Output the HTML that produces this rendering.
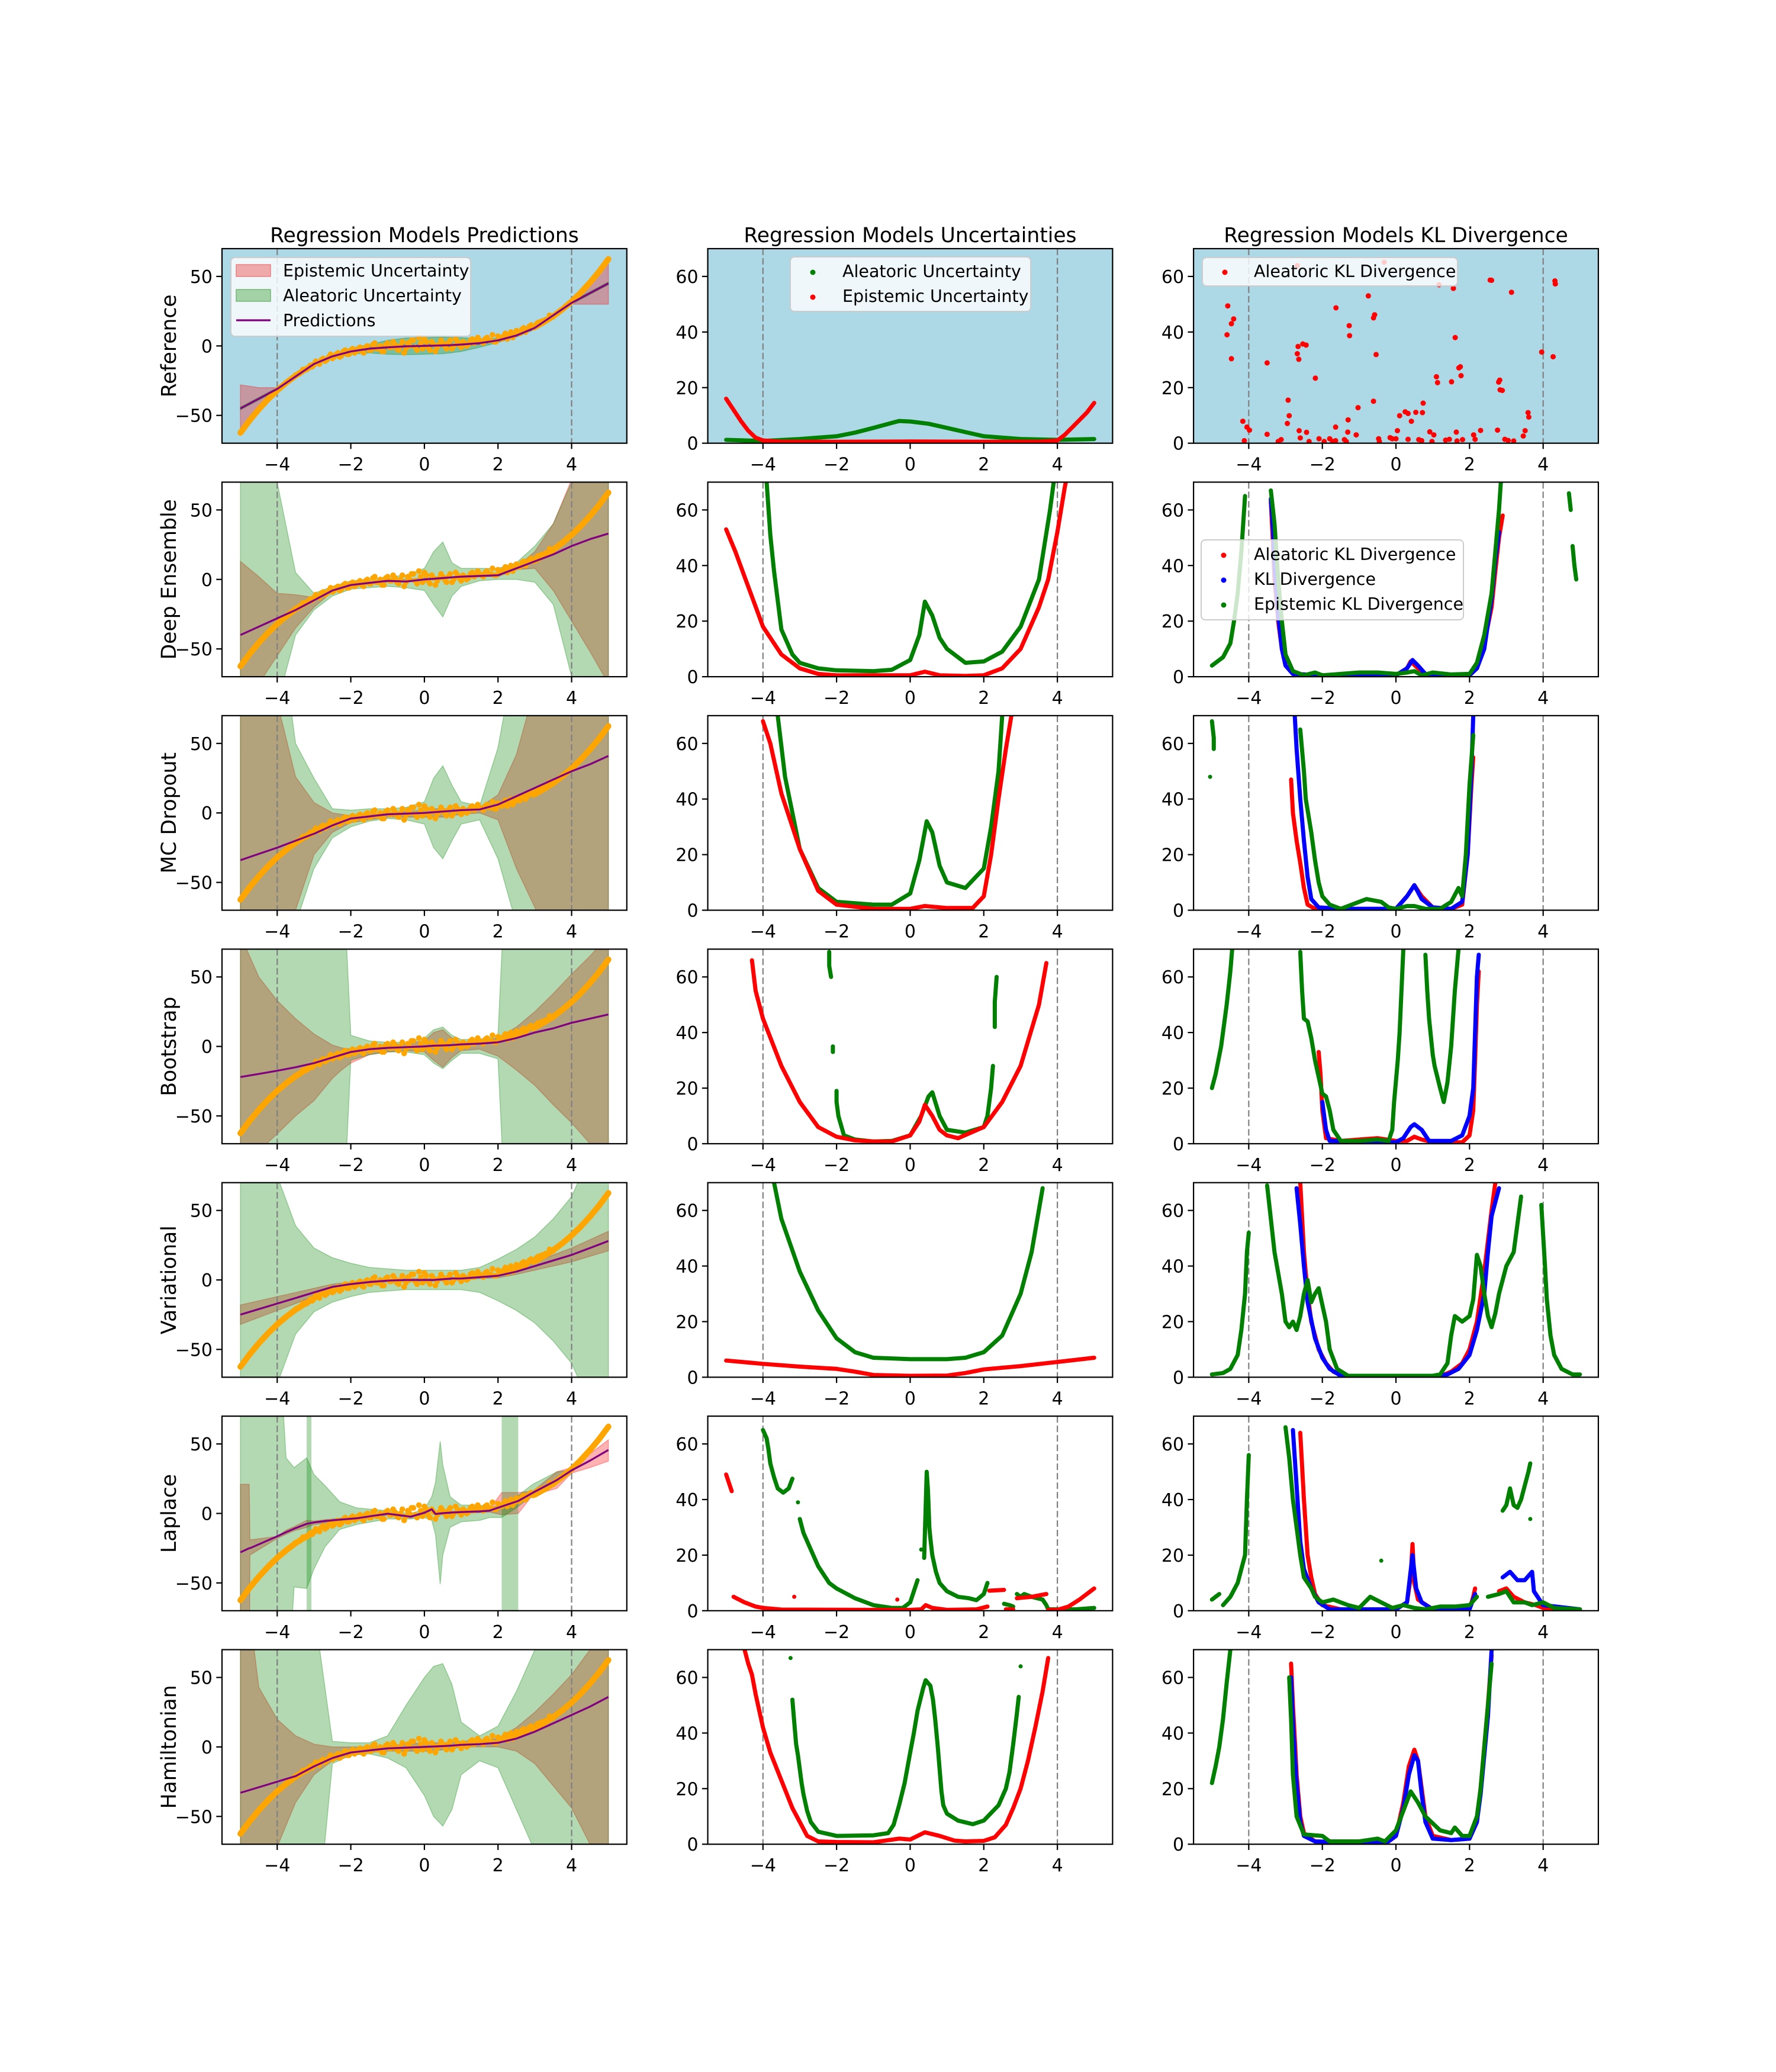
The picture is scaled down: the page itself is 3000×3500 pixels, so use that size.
<!DOCTYPE html>
<html><head><meta charset="utf-8"><title>Regression Models</title>
<style>
body{margin:0;background:#fff}
svg{display:block}
text{font-family:"DejaVu Sans","Liberation Sans",sans-serif;fill:#000}
</style></head>
<body>
<svg id="fig" xmlns="http://www.w3.org/2000/svg" width="3000" height="3500" viewBox="0 0 3000 3500">
<rect x="0" y="0" width="3000" height="3500" fill="#ffffff"/>
</svg>
<script>
// ---------------- shared data ----------------
const X = [-5,-4.5,-4,-3.5,-3,-2.5,-2,-1.5,-1,-0.5,0,0.25,0.5,0.75,1,1.5,2,2.5,3,3.5,4,4.5,5];
const TRUE_X = [-5,-4.75,-4.5,-4.25,-4,-3.75,-3.5,-3.25,-3,-2.75,-2.5,-2.25,-2,-1.75,-1.5,-1.25,-1,-0.75,-0.5,-0.25,0,0.25,0.5,0.75,1,1.25,1.5,1.75,2,2.25,2.5,2.75,3,3.25,3.5,3.75,4,4.25,4.5,4.75,5];
const TRUE_Y = [-62.5,-53.6,-45.6,-38.4,-32,-26.4,-21.4,-17.2,-13.5,-10.4,-7.8,-5.7,-4,-2.7,-1.7,-1,-0.5,-0.2,-0.06,0,0,0,0.06,0.2,0.5,1,1.7,2.7,4,5.7,7.8,10.4,13.5,17.2,21.4,26.4,32,38.4,45.6,53.6,62.5];
const OBS1_Y = [-21,-20,-17,-17,-14,-13,-12,-10,-11,-8,-9,-6,-8,-4,-6,-3,-5,-2,-4,-1,-3,1,-2,0,-4,2,-1,1,-3,3,-2,0,4,-3,2,5,-1,3,-4,1,2,-2,4,0,3,-1,2,1,5,3,4,2,6,4,3,7,5,9,8,6,11,9,13,12,15,14,17,18,19,22,21];
const OBS2_Y = [-15,-11,-13,-9,-10,-6,-8,-5,-7,-3,-6,-2,-4,-1,-5,0,-3,2,-2,-4,1,-1,3,-2,0,-5,2,4,-1,6,-2,3,-3,1,-1,4,0,2,-2,5,1,3,0,4,2,6,3,5,4,8,3,6,7,5,10,8,9,12,10,14,13,16];

// ---------------- Column 1: predictions ----------------
const REF_PRED = [-45,-38,-31,-22,-13,-7.5,-4,-2,-1,-0.3,0,0.2,0.4,0.6,1,2,4,7.5,13,22,31,38,45];
const REF_EPI_UP = [-28,-30,-30,-21,-12,-6.5,-3,-1,0,0.7,1,1.2,1.4,1.6,2,3,5,8.5,14,23,32,46,60];
const REF_EPI_LO = [-62,-46,-32,-23,-14,-8.5,-5,-3,-2,-1.3,-1,-0.8,-0.6,-0.4,0,1,3,6.5,12,21,30,30,30];
const REF_ALE_UP = [-44,-37,-30,-21,-12,-6,-2,1,4,5.7,6,6.2,6.4,6.1,6,5,5.5,8.5,14,23,32,39,46];
const REF_ALE_LO = [-46,-39,-32,-23,-14,-9,-6,-5,-6,-6.3,-6,-5.8,-5.6,-4.9,-4,-1,2.5,6.5,12,21,30,37,44];

const DE_PRED = [-40,-34,-28,-22,-15,-8,-4,-2.5,-1,-1.5,0,0.5,1,1.5,2,2.5,3,8,13,18,24,29,33];
const DE_EPI_UP = [13,2,-10,-11,-13,-7,-3,-2,0,0,1,1.5,2,2,3,3,4,9,20,40,72,100,130];
const DE_EPI_LO = [-100,-75,-55,-35,-20,-9,-5,-3,-2,-2,-1,0,0,1,1,2,2,7,8,-8,-30,-52,-75];
const DE_ALE_UP = [150,120,70,5,-10,-5,-1,0,2,3,8,20,27,12,8,8,8,12,24,40,70,100,140];
const DE_ALE_LO = [-200,-150,-90,-40,-22,-12,-7,-6,-5,-6,-8,-18,-27,-12,-5,-1,0,0,-2,-18,-70,-120,-170];

const MC_PRED = [-34,-29.5,-25,-20,-15,-9,-4,-2.5,-1,-0.5,0,0.5,1,1.5,2,2.5,6,12,18,24,30,35,41];
const MC_EPI_UP = [150,150,80,26,7.5,0,-2,-1,0,1,2,3,3,3,3,4,13,42,90,150,150,150,150];
const MC_EPI_LO = [-150,-120,-90,-70,-30,-14,-7,-5,-3,-3,-3,-3,-3,-2,-1,0,-5,-40,-68,-100,-150,-150,-150];
const MC_ALE_UP = [150,150,150,50,25,3,2,3,3,4,8,25,34,20,8,5,47,120,150,150,150,150,150];
const MC_ALE_LO = [-150,-150,-150,-80,-40,-18,-10,-6,-4,-5,-8,-25,-33,-20,-8,-5,-33,-80,-150,-150,-150,-150,-150];

const BS_X = [-5,-4.5,-4,-3.5,-3,-2.5,-2.25,-2,-1.5,-1,-0.5,0,0.25,0.5,0.75,1,1.5,2,2.25,2.5,3,3.5,4,4.5,5];
const BS_PRED = [-22,-19.8,-17.5,-15,-12,-8,-6,-4,-2,-1,-0.5,0,0.5,0.7,1,1.5,2,3,4.5,6,10,13,17,20,23];
const BS_EPI_UP = [80,50,33,20,9,1,-1,-2,-1,1,2,4,10,12,6,3,4,6,10,14,25,38,52,65,80];
const BS_EPI_LO = [-80,-75,-63,-50,-39,-23,-17,-12,-6,-4,-3,-4,-10,-15,-8,-3,-2,-7,-12,-17,-28,-42,-55,-70,-85];
const BS_ALE_UP = [150,150,150,150,150,150,150,8,4,3,3,6,12,14,8,5,5,8,150,150,150,150,150,150,150];
const BS_ALE_LO = [-150,-150,-150,-150,-150,-150,-150,-10,-6,-4,-4,-6,-12,-16,-10,-5,-5,-9,-150,-150,-150,-150,-150,-150,-150];

const VI_PRED = [-25,-21,-17,-13,-9,-5,-3,-1.5,-0.5,0,0,0,0.5,1,1,2,3,6,10,14,18,23,28];
const VI_EPI_UP = [-18,-15,-12,-9,-6,-3,-1.5,-0.5,0.5,1,1,1,1.5,2,2,3,4.5,8,13,18,23,29,35];
const VI_EPI_LO = [-32,-27,-22,-17,-12,-7,-4.5,-2.5,-1.5,-1,-1,-1,-0.5,0,0,1,1.5,4,7,10,13,17,21];
const VI_ALE_UP = [150,150,75,39,23,16,12,9,8,7,7,7,7,7,7,9,15,22,31,44,60,90,150];
const VI_ALE_LO = [-150,-150,-75,-39,-23,-16,-12,-9,-8,-7,-7,-7,-7,-7,-7,-9,-15,-22,-31,-44,-60,-90,-150];

const LA_X = [-5,-4.76,-4.74,-4,-3.76,-3.54,-3.2,-3.0,-2.7,-2.3,-1.84,-1,-0.37,0,0.2,0.3,0.43,0.5,0.7,1,1.5,1.77,2.1,2.55,2.94,3.6,4,4.5,5];
const LA_PRED = [-28,-25,-25,-16.5,-13.5,-11,-7.5,-6.5,-5.5,-4.5,-3.5,-0.2,-2.3,0.5,3,-0.4,0,0.2,0.6,1,1.5,2,5,9,14.8,24,31,38,45.7];
const LA_EPI_UP = [21,21,-19,-16.5,-12,-9.5,-5,-5.5,-4.5,-3.5,-2.5,0.8,-1.3,1.5,4,0.6,1,1.2,1.6,2,2.5,3,15,15,16,30,33,43,53];
const LA_EPI_LO = [-150,-150,-30,-18,-15,-12.5,-10,-8,-7,-6,-5,-1.2,-3.3,-0.5,2,-1.4,-1,-0.8,-0.4,0,0.5,1,-1,0,13,18,29,33,37.6];
const LA_ALE_UP = [150,150,150,150,40,33,40,28,20,8.4,4,2,0,3,12,22,52,35,12,6,6,5,5,13,21,30,31,38,45.7];
const LA_ALE_LO = [-150,-150,-150,-150,-150,-53,-54,-40,-24,-11.5,-8,-4,-4,-3,-5,-15,-51,-30,-10,-6,-5,-3,-3,5,13,22,31,38,45.7];
const LA_STRIPES = [[-3.2,-3.07],[2.1,2.55]];

const HM_PRED = [-33,-29,-25,-21,-14,-8,-4,-2.5,-1,-0.5,0,0.3,0.6,1,1.5,2,3,6,11,17,23,29,36];
const HM_EPI_UP = [150,43,20,8,2,0,0,0,1,2,3,3,3,3,4,5,6,14,25,38,52,70,100];
const HM_EPI_LO = [-150,-110,-72,-40,-20,-10,-6,-4,-3,-3,-3,-3,-2,-1,0,0,0,-3,-12,-28,-44,-70,-100];
const HM_ALE_UP = [150,150,150,150,100,4,3,3,8,30,50,58,60,45,18,8,15,40,70,150,150,150,150];
const HM_ALE_LO = [-150,-150,-150,-150,-150,-12,-6,-5,-8,-15,-35,-50,-57,-45,-20,-10,-15,-45,-75,-150,-150,-150,-150];

// ---------------- Column 2: uncertainties [x, value] (null = gap) ----------------
const REF_U_ALE = [[-5,1.2],[-4,0.8],[-3,1.5],[-2,2.5],[-1.5,3.8],[-1,5.5],[-0.5,7.3],[-0.3,8],[0,7.8],[0.5,7],[1,5.5],[1.5,4],[2,2.5],[3,1.5],[4,1.2],[5,1.5]];
const REF_U_EPI = [[-5,16],[-4.8,12],[-4.6,8],[-4.4,4.5],[-4.2,2],[-4,1],[-3.5,0.5],[-2,0.5],[0,0.6],[2,0.5],[3.5,0.5],[4,1],[4.2,3],[4.5,7],[4.8,11],[5,14.5]];
const DE_U_ALE = [[-3.9,70],[-3.8,51],[-3.7,38],[-3.5,17],[-3.2,8],[-3,5],[-2.5,3],[-2,2.3],[-1,2],[-0.5,2.5],[0,6],[0.25,15],[0.4,27],[0.6,22],[0.8,14],[1,10],[1.5,5],[2,5.5],[2.5,9],[3,18],[3.5,35],[3.8,60],[3.9,70]];
const DE_U_EPI = [[-5,53],[-4.75,45],[-4.5,36],[-4.25,27],[-4,18],[-3.5,8],[-3,3],[-2.5,1],[-2,0.5],[0,0.5],[0.4,1.8],[0.8,0.5],[1.5,0.3],[2,0.5],[2.5,3],[3,10],[3.5,25],[3.75,35],[4,52],[4.2,68],[4.3,75]];
const MC_U_ALE = [[-3.6,70],[-3.4,48],[-3,22],[-2.5,8],[-2,3],[-1,2],[-0.5,2],[0,6],[0.25,18],[0.45,32],[0.6,28],[0.8,16],[1,10],[1.5,8],[2,15],[2.2,30],[2.4,50],[2.5,70]];
const MC_U_EPI = [[-4,68],[-3.8,60],[-3.5,42],[-3,22],[-2.5,7],[-2,2],[-1,0.5],[0,0.5],[0.4,1.5],[1,0.8],[1.7,0.8],[2,5],[2.2,20],[2.4,40],[2.6,58],[2.75,70]];
const BS_U_ALE = [[-2.2,69],[-2.2,64],[-2.15,60],null,[-2.1,35],[-2.1,33],null,[-2,19],[-2,15],[-1.95,10],[-1.8,3],[-1.5,1.5],[-1,0.8],[-0.5,1],[0,3],[0.3,10],[0.5,17],[0.6,18.5],[0.8,10],[1,5],[1.5,4],[2,6],[2.1,10],[2.2,20],[2.25,28],null,[2.3,42],[2.3,51],[2.35,60]];
const BS_U_EPI = [[-4.3,66],[-4.2,55],[-4,45],[-3.5,28],[-3,15],[-2.5,6],[-2,2.5],[-1.5,1.2],[-1,0.8],[-0.5,0.8],[0,3],[0.25,8],[0.4,14],[0.6,10],[0.8,5],[1,3],[1.3,2],[2,6],[2.5,15],[3,28],[3.5,50],[3.7,65]];
const VI_U_ALE = [[-3.7,70],[-3.5,57],[-3,38],[-2.5,24],[-2,14],[-1.5,9],[-1,7],[0,6.5],[1,6.5],[1.5,7],[2,9],[2.5,15],[3,30],[3.3,45],[3.6,68]];
const VI_U_EPI = [[-5,6],[-4,4.8],[-3,3.8],[-2,3],[-1.5,2],[-1,0.8],[0,0.5],[1,0.6],[1.5,1.5],[2,2.8],[3,4],[4,5.5],[5,7]];
const LA_U_ALE = [[-4,65],[-3.9,62],[-3.85,58],[-3.8,53],[-3.7,48],[-3.6,44],[-3.45,42.5],[-3.3,44],[-3.2,47.5],null,[-3.05,39],null,[-3,33],[-2.9,28],[-2.7,22],[-2.5,16],[-2.2,10],[-2,8],[-1.5,4.5],[-1,2],[-0.5,1],[-0.2,1],[0,3],[0.1,7],[0.2,11],null,[0.3,22],null,[0.38,19],[0.45,50],[0.48,44],[0.5,38],[0.52,30],[0.55,26],[0.6,20],[0.7,14],[0.8,10],[1,7],[1.3,5],[1.6,4.5],[1.8,3.8],[2,6],[2.1,10],null,[2.55,2.5],[2.7,2],[2.8,1.5],null,[2.9,6],[3,5],[3.1,6],[3.3,5],[3.6,4],[3.7,2],[3.75,0.5],[4.5,0.5],[5,1]];
const LA_U_EPI = [[-5,49],[-4.85,43],null,[-4.8,5],[-4.5,3],[-4.2,1.5],[-4,1],[-3.5,0.4],[-1,0.3],[0,0.3],[0.3,0.5],[0.42,2],[0.6,1],[1,0.3],[1.8,0.5],[2.1,1.5],null,[2.15,7.2],[2.55,7.5],null,[2.6,0.5],[2.8,0.5],null,[2.9,4.5],[3.3,5],[3.5,5.5],[3.7,6],null,[3.75,0.3],[4,0.3],[4.3,1.5],[4.6,4],[5,8],null,[-3.15,5],null,[-0.35,4]];
const HM_U_ALE = [[-3.25,67],null,[-3.2,52],[-3.15,44],[-3.1,36],[-3.05,32],[-3,27],[-2.95,22],[-2.9,18],[-2.8,12],[-2.7,8],[-2.5,4.5],[-2,3],[-1,3.2],[-0.6,4],[-0.45,7],[-0.3,14],[-0.15,22],[0,33],[0.1,40],[0.2,48],[0.35,56],[0.42,59],[0.55,57],[0.62,52],[0.68,45],[0.75,35],[0.8,27],[0.85,19],[0.9,14],[1,11],[1.3,8.5],[1.7,7.2],[2,8.5],[2.4,14],[2.6,20],[2.7,26],[2.8,36],[2.9,47],[2.95,53],null,[3.0,64]];
const HM_U_EPI = [[-4.5,70],[-4.4,65],[-4.3,61],[-4.2,54],[-4,42],[-3.8,33],[-3.5,23],[-3.2,13],[-3,8],[-2.8,3],[-2.5,1],[-2,0.8],[-1,0.7],[-0.3,2],[0,1.7],[0.4,4.3],[0.8,3],[1.2,1.3],[1.5,1],[2,1.2],[2.3,2.5],[2.6,7],[2.8,13],[3,20],[3.2,30],[3.4,42],[3.6,55],[3.75,67]];

// ---------------- Column 3: KL divergence [x, value] ----------------
const REF_KL_ALE = [[-4.65,61.6],[-4.57,49.4],[-4.41,44.7],[-4.47,43],[-4.59,39],[-4.47,30.4],[-4.16,7.9],[-4.05,5.8],[-3.98,4.7],[-4.12,0.9],[-3.5,28.9],[-3.5,3.2],[-3.12,1.3],[-3.2,0.6],[-2.93,15.5],[-2.9,9.9],[-2.95,7.1],[-2.68,63.9],[-2.66,34.8],[-2.68,32.2],[-2.64,30.2],[-2.53,35.7],[-2.44,35.3],[-2.63,4.5],[-2.6,1.9],[-2.43,3.9],[-2.36,0.6],[-2.19,23.4],[-2.09,1.6],[-1.95,0.6],[-1.8,1.6],[-1.72,0.6],[-1.64,0.9],[-1.64,5.8],[-1.63,48.7],[-1.4,1.3],[-1.35,0.6],[-1.31,4],[-1.3,8.4],[-1.27,42.3],[-1.26,38.7],[-1.08,3],[-1.03,12.8],[-0.75,53],[-0.61,45.1],[-0.58,46.2],[-0.61,15.1],[-0.54,31.9],[-0.47,1.6],[-0.45,0.6],[-0.32,65.1],[-0.16,2],[-0.1,1.6],[0,1.6],[0.04,4.5],[0.1,9.9],[0.25,11.3],[0.33,10.7],[0.33,1.4],[0.42,7.9],[0.54,11.1],[0.62,1.3],[0.7,0.9],[0.72,11],[0.74,14.4],[0.92,4.1],[0.98,0.6],[1.03,3],[1.1,23.9],[1.13,21.8],[1.17,57],[1.35,1.1],[1.45,1.4],[1.51,22.1],[1.56,55.7],[1.61,38],[1.64,4],[1.66,0.8],[1.71,27.1],[1.75,27.5],[1.77,24.3],[1.81,1.3],[2.11,3],[2.15,1.4],[2.3,4.6],[2.56,58.7],[2.6,58.6],[2.76,4.7],[2.79,22],[2.82,22.7],[2.83,19.2],[2.89,19],[2.96,1.4],[3.05,1],[3.2,0.8],[3.14,54.3],[3.46,2.6],[3.51,4.5],[3.59,11],[3.61,9.4],[3.96,32.8],[4.27,31.1],[4.32,58.4],[4.33,57.3]];
const DE_KL_ALE = [[-3.4,63],[-3.35,50],[-3.3,35],[-3.2,20],[-3.1,10],[-3,4],[-2.8,1],[-2,0.5],[0,0.5],[0.3,3],[0.4,5.5],[0.6,3],[0.8,1],[1.5,0.5],[2,0.5],[2.2,3],[2.4,12],[2.6,25],[2.7,38],[2.8,50],[2.9,58]];
const DE_KL_TOT = [[-3.4,64],[-3.35,55],[-3.3,40],[-3.2,22],[-3.1,10],[-3,4],[-2.8,1],[-2,0.5],[0,0.5],[0.3,3],[0.45,6],[0.6,4],[0.8,1],[1.5,0.5],[2,0.5],[2.2,3],[2.4,10],[2.6,28],[2.7,42],[2.8,52]];
const DE_KL_EPI = [[-5,4],[-4.7,7],[-4.5,12],[-4.4,20],[-4.3,30],[-4.2,45],[-4.1,65],null,[-3.4,67],[-3.3,55],[-3.2,35],[-3.1,20],[-3,8],[-2.8,2],[-2.5,0.5],[-2.2,1.5],[-2,0.5],[-1.5,1],[-1,1.5],[-0.5,1.5],[0,1],[0.3,1.5],[0.5,2],[0.7,0.5],[1,1.5],[1.5,0.8],[2,1],[2.2,5],[2.4,15],[2.6,30],[2.7,45],[2.8,60],[2.85,70],null,[4.7,66],[4.75,60],null,[4.8,47],[4.85,40],[4.9,35]];
const MC_KL_ALE = [[-2.85,47],[-2.8,35],[-2.7,25],[-2.6,17],[-2.5,8],[-2.4,2],[-2.2,0.5],[0,0.5],[0.3,5],[0.5,9],[0.7,5],[1,1],[1.5,0.5],[1.8,2],[1.95,20],[2.05,45],[2.1,55]];
const MC_KL_TOT = [[-2.75,70],[-2.7,58],[-2.6,40],[-2.5,25],[-2.4,12],[-2.3,4],[-2.1,1],[-1.5,0.5],[0,0.5],[0.3,5],[0.5,9],[0.7,4],[1,1],[1.5,0.5],[1.8,3],[1.95,20],[2.05,50],[2.1,70]];
const MC_KL_EPI = [[-5.05,48],null,[-4.95,58],[-4.95,62],[-5,68],null,[-2.6,65],[-2.5,50],[-2.45,40],[-2.3,28],[-2.2,18],[-2.1,10],[-2,5],[-1.8,2],[-1.5,0.5],[-1.2,2],[-0.8,4],[-0.4,3],[-0.2,1],[0,0.5],[0.3,1.5],[0.5,1.5],[0.8,0.5],[1.2,0.5],[1.5,3],[1.7,8],[1.8,5],[1.9,20],[2,45],[2.1,63]];
const BS_KL_ALE = [[-2.1,33],[-2.05,25],[-2,12],[-1.9,2],[-1.5,1],[-0.5,2],[0,1],[0.3,1],[0.5,2.5],[0.7,1.5],[1,0.5],[1.8,0.5],[2,3],[2.1,12],[2.15,30],[2.2,50],[2.25,62]];
const BS_KL_TOT = [[-2.0,15],[-1.9,5],[-1.8,1],[0,0.5],[0.2,2],[0.4,6],[0.5,7],[0.7,5],[0.9,1],[1.5,1],[1.8,3],[2,10],[2.1,20],[2.15,40],[2.2,60],[2.25,68]];
const BS_KL_EPI = [[-5,20],[-4.9,25],[-4.75,35],[-4.6,50],[-4.5,62],[-4.45,70],null,[-2.6,69],[-2.55,55],[-2.5,45],[-2.4,44],[-2.3,38],[-2.2,30],[-2.1,24],[-2,18],[-1.9,17],[-1.8,12],[-1.7,5],[-1.5,1],[-1,1],[-0.5,1.5],[-0.2,1],[-0.1,5],[-0.05,15],[0.05,30],[0.1,40],[0.2,70],null,[0.8,68],[0.85,55],[0.9,45],[1.0,32],[1.05,28],[1.2,20],[1.3,15],[1.4,22],[1.5,35],[1.6,55],[1.7,70]];
const VI_KL_ALE = [[-2.6,70],[-2.5,45],[-2.4,30],[-2.3,20],[-2.1,10],[-1.9,5],[-1.7,2],[-1.4,0.3],[1.2,0.3],[1.5,2],[1.8,5],[2,10],[2.2,20],[2.4,38],[2.6,60],[2.7,70]];
const VI_KL_TOT = [[-2.7,68],[-2.6,55],[-2.5,40],[-2.4,27],[-2.2,14],[-2,7],[-1.8,3],[-1.5,0.5],[1,0.3],[1.4,1],[1.7,3],[2,8],[2.2,17],[2.4,30],[2.5,45],[2.6,58],[2.8,68]];
const VI_KL_EPI = [[-5,1],[-4.7,1.5],[-4.5,3],[-4.3,8],[-4.2,17],[-4.1,30],[-4.05,45],[-4,52],null,[-3.5,69],[-3.4,57],[-3.3,45],[-3.1,30],[-3.0,20],[-2.9,18],[-2.8,20],[-2.7,17],[-2.6,22],[-2.5,30],[-2.4,35],[-2.3,27],[-2.2,30],[-2.1,32],[-1.9,20],[-1.8,10],[-1.6,3],[-1.3,0.5],[0,0.5],[1,0.5],[1.2,1],[1.4,5],[1.5,15],[1.6,22],[1.8,20],[2,22],[2.1,28],[2.2,44],[2.3,40],[2.4,30],[2.5,22],[2.6,18],[2.7,23],[2.8,30],[3,40],[3.2,45],[3.4,65],null,[3.95,62],[4.05,40],[4.1,28],[4.2,15],[4.3,8],[4.5,3],[4.8,1],[5,1]];
const LA_KL_ALE = [[-2.6,64],[-2.55,52],[-2.5,40],[-2.45,30],[-2.4,20],[-2.3,12],[-2.2,6],[-2,2],[-1.5,0.5],[0,0.5],[0.3,3],[0.4,12],[0.45,24],[0.5,10],[0.6,4],[1,0.5],[2,0.5],[2.1,5],[2.15,8],null,[2.8,7],[3.0,8],[3.2,5],[3.5,3],[3.8,2],[4,1],[5,0.5]];
const LA_KL_TOT = [[-2.8,65],[-2.75,55],[-2.7,45],[-2.65,35],[-2.6,25],[-2.5,15],[-2.3,8],[-2.1,3],[-1.8,0.5],[0,0.5],[0.3,3],[0.45,20],[0.55,8],[0.7,3],[1,0.5],[2,0.5],[2.15,6],null,[2.9,12],[3.1,14],[3.3,11],[3.5,11],[3.7,14],[3.75,7],[4,2],[5,0.5]];
const LA_KL_EPI = [[-5,4],[-4.8,6],null,[-4.7,2],[-4.5,5],[-4.3,10],[-4.1,20],[-4.05,40],[-4,56],null,[-3.0,66],[-2.9,55],[-2.8,40],[-2.7,30],[-2.6,20],[-2.5,12],[-2.3,8],[-2.2,5],[-2,3],[-1.7,4],[-1.3,2],[-1,1],[-0.7,5],[-0.4,3],[-0.1,1],[0.2,2],[0.5,1],[0.8,0.5],[1.2,1.5],[1.6,1.5],[2,2],[2.2,5],null,[2.5,5],[2.8,6],[3.0,7],[3.2,3],[3.5,3],[3.7,2],[4,3],[4.3,1],[5,0.5],null,[2.9,36],[3.0,38],[3.1,44],[3.2,38],[3.3,37],[3.4,40],[3.5,45],[3.6,50],[3.65,53],null,[3.65,33],null,[-0.4,18]];
const HM_KL_ALE = [[-2.85,65],[-2.8,50],[-2.75,38],[-2.7,25],[-2.6,10],[-2.5,4],[-2.2,1],[-1,0.5],[-0.2,1],[0,3],[0.2,15],[0.35,28],[0.5,34],[0.6,30],[0.7,20],[0.8,10],[1,3],[1.5,1.5],[2,2],[2.2,8],[2.3,20],[2.4,35],[2.5,50],[2.6,68]];
const HM_KL_TOT = [[-2.85,60],[-2.8,44],[-2.75,32],[-2.7,22],[-2.6,8],[-2.5,3],[-2.2,1],[-1,0.5],[-0.2,1],[0,3],[0.2,13],[0.35,25],[0.5,32],[0.6,30],[0.7,18],[0.8,8],[1,2],[1.5,1.5],[2,2],[2.2,8],[2.3,18],[2.4,32],[2.5,46],[2.6,70]];
const HM_KL_EPI = [[-5,22],[-4.9,28],[-4.8,35],[-4.7,45],[-4.6,58],[-4.5,70],null,[-2.9,60],[-2.85,45],[-2.8,25],[-2.7,10],[-2.5,3.5],[-2,3],[-1.8,1],[-1,1],[-0.5,2],[-0.3,1],[0,5],[0.2,12],[0.4,19],[0.6,15],[0.8,10],[1.2,5],[1.5,4],[1.6,6],[1.8,3],[2,3],[2.2,10],[2.3,20],[2.4,35],[2.5,50],[2.6,65]];

const ROW_LABELS = ["Reference","Deep Ensemble","MC Dropout","Bootstrap","Variational","Laplace","Hamiltonian"];
const COL_TITLES = ["Regression Models Predictions","Regression Models Uncertainties","Regression Models KL Divergence"];
const X_TICKS = [-4,-2,0,2,4];
const Y_TICKS_PRED = [-50,0,50];
const Y_TICKS_POS = [0,20,40,60];

const MODELS = [
  {key:'reference', xs:X, pred:REF_PRED, eu:REF_EPI_UP, el:REF_EPI_LO, au:REF_ALE_UP, al:REF_ALE_LO, uA:REF_U_ALE, uE:REF_U_EPI, klA:REF_KL_ALE},
  {key:'deep-ensemble', xs:X, pred:DE_PRED, eu:DE_EPI_UP, el:DE_EPI_LO, au:DE_ALE_UP, al:DE_ALE_LO, uA:DE_U_ALE, uE:DE_U_EPI, klA:DE_KL_ALE, klT:DE_KL_TOT, klE:DE_KL_EPI},
  {key:'mc-dropout', xs:X, pred:MC_PRED, eu:MC_EPI_UP, el:MC_EPI_LO, au:MC_ALE_UP, al:MC_ALE_LO, uA:MC_U_ALE, uE:MC_U_EPI, klA:MC_KL_ALE, klT:MC_KL_TOT, klE:MC_KL_EPI},
  {key:'bootstrap', xs:BS_X, pred:BS_PRED, eu:BS_EPI_UP, el:BS_EPI_LO, au:BS_ALE_UP, al:BS_ALE_LO, uA:BS_U_ALE, uE:BS_U_EPI, klA:BS_KL_ALE, klT:BS_KL_TOT, klE:BS_KL_EPI},
  {key:'variational', xs:X, pred:VI_PRED, eu:VI_EPI_UP, el:VI_EPI_LO, au:VI_ALE_UP, al:VI_ALE_LO, uA:VI_U_ALE, uE:VI_U_EPI, klA:VI_KL_ALE, klT:VI_KL_TOT, klE:VI_KL_EPI},
  {key:'laplace', xs:LA_X, pred:LA_PRED, eu:LA_EPI_UP, el:LA_EPI_LO, au:LA_ALE_UP, al:LA_ALE_LO, stripes:LA_STRIPES, uA:LA_U_ALE, uE:LA_U_EPI, klA:LA_KL_ALE, klT:LA_KL_TOT, klE:LA_KL_EPI},
  {key:'hamiltonian', xs:X, pred:HM_PRED, eu:HM_EPI_UP, el:HM_EPI_LO, au:HM_ALE_UP, al:HM_ALE_LO, uA:HM_U_ALE, uE:HM_U_EPI, klA:HM_KL_ALE, klT:HM_KL_TOT, klE:HM_KL_EPI}
];

// ---------------- drawing ----------------
const NS = "http://www.w3.org/2000/svg";
const fig = document.getElementById('fig');
const AX_L = 375, COL_STEP = 820.56, AX_W = 683.8, AX_T = 420, ROW_STEP = 394.43, AX_H = 328.66;
const XMIN = -5.5, XMAX = 5.5;
const TICK_FS = 30, TITLE_FS = 34.5, LEG_FS = 28.5, DOT_W = 7;

function mk(tag, attrs, parent, name, inter) {
  const e = document.createElementNS(NS, tag);
  for (const k in attrs) e.setAttribute(k, attrs[k]);
  
  
  parent.appendChild(e);
  return e;
}
function sx(P, x) { return P.L + (x - XMIN) / (XMAX - XMIN) * AX_W; }
function sy(P, y) { return P.T + AX_H * (P.ymax - y) / (P.ymax - P.ymin); }
function cl(v) { return Math.max(-400, Math.min(400, v)); }

function bandPath(P, xs, up, lo) {
  let d = '';
  for (let i = 0; i < xs.length; i++) d += (i ? 'L' : 'M') + sx(P, xs[i]).toFixed(1) + ',' + sy(P, cl(up[i])).toFixed(1);
  for (let i = xs.length - 1; i >= 0; i--) d += 'L' + sx(P, xs[i]).toFixed(1) + ',' + sy(P, cl(lo[i])).toFixed(1);
  return d + 'Z';
}
function linePts(P, xs, ys) {
  return xs.map((x, i) => sx(P, x).toFixed(1) + ',' + sy(P, cl(ys[i])).toFixed(1)).join(' ');
}
function drawSeries(P, g, pts, color, name, w) {
  const segs = [[]];
  pts.forEach(p => { if (p === null) segs.push([]); else segs[segs.length - 1].push(p); });
  segs.forEach(seg => {
    if (seg.length === 0) return;
    if (seg.length === 1) {
      mk('circle', {cx: sx(P, seg[0][0]).toFixed(1), cy: sy(P, cl(seg[0][1])).toFixed(1), r: w / 2, fill: color}, g, name + '-point', false);
    } else {
      const s = seg.map(p => sx(P, p[0]).toFixed(1) + ',' + sy(P, cl(p[1])).toFixed(1)).join(' ');
      mk('polyline', {points: s, fill: 'none', stroke: color, 'stroke-width': w, 'stroke-linecap': 'round', 'stroke-linejoin': 'round'}, g, name, false);
    }
  });
}

function makePanel(r, c) {
  const P = {L: AX_L + c * COL_STEP, T: AX_T + r * ROW_STEP, ymin: c === 0 ? -70 : 0, ymax: 70};
  const g = mk('g', {}, fig, 'panel-' + MODELS[r].key + '-' + ['predictions', 'uncertainties', 'kl-divergence'][c], false);
  mk('rect', {x: P.L, y: P.T, width: AX_W, height: AX_H, fill: r === 0 ? '#add8e6' : '#ffffff'}, g, 'plot-background', false);
  const cp = mk('clipPath', {id: 'clip-' + r + '-' + c}, g, 'plot-clip', false);
  mk('rect', {x: P.L, y: P.T, width: AX_W, height: AX_H}, cp, 'plot-clip-rect', false);
  const inner = mk('g', {'clip-path': 'url(#clip-' + r + '-' + c + ')'}, g, 'plot-area', false);
  P.g = g; P.inner = inner;
  return P;
}
function drawDashed(P) {
  [-4, 4].forEach(v => {
    mk('line', {x1: sx(P, v), x2: sx(P, v), y1: P.T, y2: P.T + AX_H, stroke: '#808080', 'stroke-width': 2.2, 'stroke-dasharray': '11,5'}, P.inner, 'boundary-line-x' + v, false);
  });
}
function drawAxes(P, yt) {
  const g = P.g;
  mk('rect', {x: P.L, y: P.T, width: AX_W, height: AX_H, fill: 'none', stroke: '#000', 'stroke-width': 2.2}, g, 'axes-frame', false);
  X_TICKS.forEach(v => {
    const x = sx(P, v), y = P.T + AX_H;
    mk('line', {x1: x, x2: x, y1: y, y2: y + 9.7, stroke: '#000', 'stroke-width': 2.2}, g, 'x-tick', false);
    const t = mk('text', {x: x, y: y + 46, 'text-anchor': 'middle', 'font-size': TICK_FS}, g, 'x-tick-label', false);
    t.textContent = v < 0 ? '\u2212' + Math.abs(v) : String(v);
  });
  yt.forEach(v => {
    const y = sy(P, v);
    mk('line', {x1: P.L - 9.7, x2: P.L, y1: y, y2: y, stroke: '#000', 'stroke-width': 2.2}, g, 'y-tick', false);
    const t = mk('text', {x: P.L - 16, y: y + 11, 'text-anchor': 'end', 'font-size': TICK_FS}, g, 'y-tick-label', false);
    t.textContent = v < 0 ? '\u2212' + Math.abs(v) : String(v);
  });
}

const EPI_FILL = 'rgba(255,0,0,0.3)';
const ALE_FILL = 'rgba(0,128,0,0.3)';

MODELS.forEach((m, r) => {
  // column 1
  const P = makePanel(r, 0);
  mk('path', {d: bandPath(P, m.xs, m.eu, m.el), fill: EPI_FILL, stroke: 'rgba(255,0,0,0.3)', 'stroke-width': 1.5}, P.inner, 'epistemic-band', false);
  mk('path', {d: bandPath(P, m.xs, m.au, m.al), fill: ALE_FILL, stroke: 'rgba(0,128,0,0.3)', 'stroke-width': 1.5}, P.inner, 'aleatoric-band', false);
  if (m.stripes) m.stripes.forEach(s => {
    mk('rect', {x: sx(P, s[0]), y: P.T, width: sx(P, s[1]) - sx(P, s[0]), height: AX_H, fill: ALE_FILL}, P.inner, 'aleatoric-stripe', false);
  });
  drawDashed(P);
  const lx = [], ly = [], rx = [], ry = [];
  TRUE_X.forEach((x, i) => { if (x <= -3) { lx.push(x); ly.push(TRUE_Y[i]); } if (x >= 3) { rx.push(x); ry.push(TRUE_Y[i]); } });
  mk('polyline', {points: linePts(P, lx, ly), fill: 'none', stroke: '#ffa500', 'stroke-width': 10, 'stroke-linecap': 'round', 'stroke-linejoin': 'round'}, P.inner, 'data-points-left', false);
  mk('polyline', {points: linePts(P, rx, ry), fill: 'none', stroke: '#ffa500', 'stroke-width': 10, 'stroke-linecap': 'round', 'stroke-linejoin': 'round'}, P.inner, 'data-points-right', false);
  OBS1_Y.forEach((v, i) => {
    mk('circle', {cx: sx(P, -3.5 + 0.1 * i).toFixed(1), cy: sy(P, v).toFixed(1), r: 4.8, fill: '#ffa500'}, P.inner, 'data-point', false);
  });
  OBS2_Y.forEach((v, i) => {
    mk('circle', {cx: sx(P, -3.05 + 0.1 * i).toFixed(1), cy: sy(P, v).toFixed(1), r: 4.8, fill: '#ffa500'}, P.inner, 'data-point', false);
  });
  mk('polyline', {points: linePts(P, m.xs, m.pred), fill: 'none', stroke: '#800080', 'stroke-width': 3.2, 'stroke-linejoin': 'round'}, P.inner, 'prediction-line', false);
  drawAxes(P, Y_TICKS_PRED);
  const yl = mk('text', {x: 0, y: 0, 'text-anchor': 'middle', 'font-size': TITLE_FS, transform: 'translate(297,' + (P.T + AX_H / 2) + ') rotate(-90)'}, P.g, 'row-label', false);
  yl.textContent = ROW_LABELS[r];

  // column 2
  const Q = makePanel(r, 1);
  drawDashed(Q);
  drawSeries(Q, Q.inner, m.uA, '#008000', 'aleatoric-uncertainty-series', DOT_W);
  drawSeries(Q, Q.inner, m.uE, '#ff0000', 'epistemic-uncertainty-series', DOT_W);
  drawAxes(Q, Y_TICKS_POS);

  // column 3
  const R = makePanel(r, 2);
  drawDashed(R);
  if (r === 0) {
    m.klA.forEach(p => {
      mk('circle', {cx: sx(R, p[0]).toFixed(1), cy: sy(R, p[1]).toFixed(1), r: 4.5, fill: '#ff0000'}, R.inner, 'aleatoric-kl-point', false);
    });
  } else {
    drawSeries(R, R.inner, m.klA, '#ff0000', 'aleatoric-kl-series', DOT_W);
    drawSeries(R, R.inner, m.klT, '#0000ff', 'kl-divergence-series', DOT_W);
    drawSeries(R, R.inner, m.klE, '#008000', 'epistemic-kl-series', DOT_W);
  }
  drawAxes(R, Y_TICKS_POS);

  if (r === 0) {
    [P, Q, R].forEach((pp, c) => {
      const t = mk('text', {x: pp.L + AX_W / 2, y: pp.T - 11, 'text-anchor': 'middle', 'font-size': TITLE_FS}, fig, 'column-title', false);
      t.textContent = COL_TITLES[c];
    });
  }
});

// ---------------- legends ----------------
function legendBox(x, y, w, h, name) {
  const g = mk('g', {}, fig, name, false);
  mk('rect', {x: x, y: y, width: w, height: h, rx: 7, fill: 'rgba(255,255,255,0.8)', stroke: '#cccccc', 'stroke-width': 2}, g, 'legend-frame', false);
  return g;
}
function legendText(g, x, y, s, name) {
  const t = mk('text', {x: x, y: y + 10, 'font-size': LEG_FS}, g, name, false);
  t.textContent = s;
}
{
  const g = legendBox(390, 435, 405, 133, 'predictions-legend');
  mk('rect', {x: 399, y: 447, width: 58, height: 20, fill: 'rgba(240,128,128,0.65)', stroke: 'rgba(230,110,110,0.8)', 'stroke-width': 1.5}, g, 'legend-epistemic-swatch', false);
  legendText(g, 478, 457, 'Epistemic Uncertainty', 'legend-epistemic-label');
  mk('rect', {x: 399, y: 489, width: 58, height: 20, fill: 'rgba(120,190,120,0.65)', stroke: 'rgba(100,170,100,0.8)', 'stroke-width': 1.5}, g, 'legend-aleatoric-swatch', false);
  legendText(g, 478, 499, 'Aleatoric Uncertainty', 'legend-aleatoric-label');
  mk('line', {x1: 399, x2: 457, y1: 541, y2: 541, stroke: '#800080', 'stroke-width': 3.2}, g, 'legend-prediction-swatch', false);
  legendText(g, 478, 541, 'Predictions', 'legend-prediction-label');
}
{
  const g = legendBox(1335, 434, 406, 92, 'uncertainties-legend');
  mk('circle', {cx: 1373, cy: 460, r: 4.5, fill: '#008000'}, g, 'legend-aleatoric-marker', false);
  legendText(g, 1423, 458, 'Aleatoric Uncertainty', 'legend-aleatoric-label');
  mk('circle', {cx: 1373, cy: 502, r: 4.5, fill: '#ff0000'}, g, 'legend-epistemic-marker', false);
  legendText(g, 1423, 500, 'Epistemic Uncertainty', 'legend-epistemic-label');
}
{
  const g = legendBox(2031, 435, 431, 48, 'kl-reference-legend');
  mk('circle', {cx: 2069, cy: 460, r: 4.5, fill: '#ff0000'}, g, 'legend-aleatoric-kl-marker', false);
  legendText(g, 2118, 458, 'Aleatoric KL Divergence', 'legend-aleatoric-kl-label');
}
{
  const g = legendBox(2029, 912, 443, 135, 'kl-divergence-legend');
  mk('circle', {cx: 2067, cy: 938, r: 4.5, fill: '#ff0000'}, g, 'legend-aleatoric-kl-marker', false);
  legendText(g, 2118, 936, 'Aleatoric KL Divergence', 'legend-aleatoric-kl-label');
  mk('circle', {cx: 2067, cy: 980, r: 4.5, fill: '#0000ff'}, g, 'legend-kl-marker', false);
  legendText(g, 2118, 978, 'KL Divergence', 'legend-kl-label');
  mk('circle', {cx: 2067, cy: 1022, r: 4.5, fill: '#008000'}, g, 'legend-epistemic-kl-marker', false);
  legendText(g, 2118, 1020, 'Epistemic KL Divergence', 'legend-epistemic-kl-label');
}
</script>
</body></html>
